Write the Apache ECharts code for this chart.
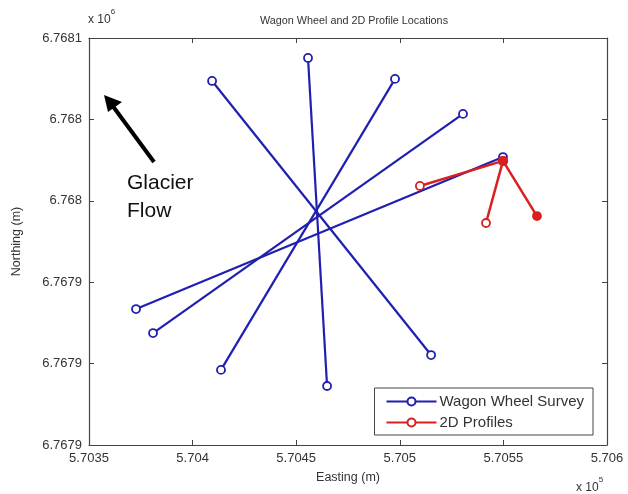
<!DOCTYPE html>
<html><head><meta charset="utf-8">
<script src="https://cdn.jsdelivr.net/npm/echarts@6/dist/echarts.min.js"></script>
<style>html,body{margin:0;padding:0;background:#fff}#c{width:628px;height:494px}</style>
</head><body><div id="c"></div>
<script>
// Wagon wheel survey lines: each pair is [start, end] as [easting, northing]
const wagonLines = [
  [[570455.7, 6768050.2], [570464.9, 6767889.0]],
  [[570409.4, 6768038.9], [570515.1, 6767904.2]],
  [[570497.7, 6768039.9], [570413.7, 6767896.9]],
  [[570530.5, 6768022.7], [570380.9, 6767915.0]],
  [[570549.8, 6768001.5], [570372.7, 6767926.8]]
];
// 2D profile lines
const profileLines = [
  [[570509.7, 6767987.3], [570549.8, 6767999.6]],
  [[570549.8, 6767999.6], [570541.6, 6767969.1]],
  [[570549.8, 6767999.6], [570566.2, 6767972.5]]
];
const xMin = 570350, xMax = 570600, xStep = 50;
const yMin = 6767860, yMax = 6768060, yStep = 40;

const blue = '#1f1fb0', red = '#d82020';
const fmtX = v => String(parseFloat((v/1e5).toFixed(4)));
const fmtY = v => String(parseFloat((v/1e6).toFixed(4)));
const font = 'Liberation Sans, Arial, sans-serif';

const series = [];
wagonLines.forEach(l => series.push({
  name: 'Wagon Wheel Survey', type: 'line', data: l, xAxisIndex: 0, yAxisIndex: 0,
  symbol: 'circle', symbolSize: 8, showSymbol: true,
  lineStyle: {color: blue, width: 2.2}, itemStyle: {color: '#fff', borderColor: blue, borderWidth: 1.8},
  animation: false, z: 2
}));
profileLines.forEach((l, i) => series.push({
  name: '2D Profiles', type: 'line', data: l, xAxisIndex: 0, yAxisIndex: 0,
  symbol: 'circle', symbolSize: 8,
  lineStyle: {color: red, width: 2.5},
  itemStyle: {color: i === 2 ? red : '#fff', borderColor: red, borderWidth: 1.8},
  animation: false, z: 3 + i
}));

const chart = echarts.init(document.getElementById('c'), null, {renderer: 'canvas'});
chart.setOption({
  animation: false,
  backgroundColor: '#fff',
  title: {text: 'Wagon Wheel and 2D Profile Locations', left: 349, top: 11, textAlign: 'center',
    textStyle: {fontSize: 10.8, fontWeight: 'normal', color: '#333', fontFamily: font}},
  grid: {left: 89, top: 38, right: 21, bottom: 49},
  legend: {
    data: [{name: 'Wagon Wheel Survey'}, {name: '2D Profiles'}],
    orient: 'vertical', right: 35, bottom: 59, itemWidth: 50, itemHeight: 10, itemGap: 6,
    padding: [6, 9, 5, 11], borderColor: '#444', borderWidth: 1, backgroundColor: '#fff',
    textStyle: {fontSize: 15, color: '#333', fontFamily: font, padding: [0, 0, 0, -2]}
  },
  xAxis: [
    {type: 'value', min: xMin, max: xMax, interval: xStep, name: 'Easting (m)', nameLocation: 'middle', nameGap: 26,
     nameTextStyle: {fontSize: 12.5, color: '#333', fontFamily: font},
     axisLine: {show: true, onZero: false, lineStyle: {color: '#444', width: 1.2}},
     axisTick: {inside: true, length: 5, lineStyle: {color: '#444'}},
     axisLabel: {formatter: fmtX, fontSize: 13, color: '#333', fontFamily: font, margin: 7},
     splitLine: {show: false}},
    {type: 'value', position: 'top', min: xMin, max: xMax, interval: xStep,
     axisLine: {show: true, onZero: false, lineStyle: {color: '#444', width: 1.2}},
     axisTick: {inside: true, length: 5, lineStyle: {color: '#444'}},
     axisLabel: {show: false}, splitLine: {show: false}}
  ],
  yAxis: [
    {type: 'value', min: yMin, max: yMax, interval: yStep, name: 'Northing (m)', nameLocation: 'middle', nameGap: 66,
     nameTextStyle: {fontSize: 12.5, color: '#333', fontFamily: font},
     axisLine: {show: true, onZero: false, lineStyle: {color: '#444', width: 1.2}},
     axisTick: {inside: true, length: 5, lineStyle: {color: '#444'}},
     axisLabel: {formatter: fmtY, fontSize: 13, color: '#333', fontFamily: font, margin: 7},
     splitLine: {show: false}},
    {type: 'value', position: 'right', min: yMin, max: yMax, interval: yStep,
     axisLine: {show: true, onZero: false, lineStyle: {color: '#444', width: 1.2}},
     axisTick: {inside: true, length: 5, lineStyle: {color: '#444'}},
     axisLabel: {show: false}, splitLine: {show: false}}
  ],
  series: series,
  graphic: [
    {type: 'text', left: 88, top: 8, style: {
      text: '{a|x 10}{b|6}', rich: {a: {fontSize: 12, fill: '#333', fontFamily: font, padding: [6,0,0,0]}, b: {fontSize: 8, fill: '#333', fontFamily: font, verticalAlign: 'top'}}}},
    {type: 'text', left: 576, top: 476, style: {
      text: '{a|x 10}{b|5}', rich: {a: {fontSize: 12, fill: '#333', fontFamily: font, padding: [6,0,0,0]}, b: {fontSize: 8, fill: '#333', fontFamily: font, verticalAlign: 'top'}}}},
    {type: 'line', shape: {x1: 154, y1: 162, x2: 112, y2: 105}, style: {stroke: '#000', lineWidth: 4}},
    {type: 'polygon', shape: {points: [[104, 95], [122, 102], [108, 112]]}, style: {fill: '#000'}},
    {type: 'text', left: 127, top: 169, style: {text: 'Glacier\nFlow', fontSize: 21, lineHeight: 28, fill: '#111', fontFamily: font}}
  ]
});
</script></body></html>
